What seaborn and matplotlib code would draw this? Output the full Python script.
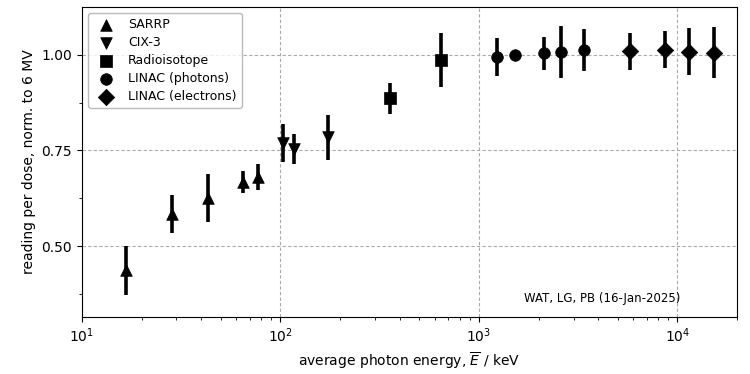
import numpy as np
import pandas as pd
import matplotlib
matplotlib.use("Agg")
import matplotlib.pyplot as plt
import seaborn as sns

# average photon energy (keV), normalised reading, uncertainty
sarrp_e = [16.8, 28.5, 43.4, 64.6, 77.4]
sarrp_r = [0.437, 0.584, 0.626, 0.668, 0.681]
sarrp_u = [0.063, 0.050, 0.063, 0.028, 0.034]

cix_e = [102.7, 117.5, 174.0]
cix_r = [0.770, 0.753, 0.784]
cix_u = [0.050, 0.039, 0.058]

radio_e = [357.0, 647.0]
radio_r = [0.886, 0.986]
radio_u = [0.041, 0.071]

linac_ph_e = [1227.0, 1528.0, 2123.0, 2594.0, 3374.0]
linac_ph_r = [0.994, 1.000, 1.003, 1.007, 1.011]
linac_ph_u = [0.050, 0.0, 0.043, 0.068, 0.055]

linac_el_e = [5781.0, 8670.0, 11490.0, 15360.0]
linac_el_r = [1.009, 1.013, 1.008, 1.005]
linac_el_u = [0.048, 0.048, 0.062, 0.067]

groups = [
    ("SARRP", "^", sarrp_e, sarrp_r, sarrp_u),
    ("CIX-3", "v", cix_e, cix_r, cix_u),
    ("Radioisotope", "s", radio_e, radio_r, radio_u),
    ("LINAC (photons)", "o", linac_ph_e, linac_ph_r, linac_ph_u),
    ("LINAC (electrons)", "D", linac_el_e, linac_el_r, linac_el_u),
]

sns.set_style("ticks")
plt.rcParams['font.family'] = ['DejaVu Sans']
plt.rcParams.update({"text.color": "black", "axes.labelcolor": "black",
                     "xtick.color": "black", "ytick.color": "black"})

fig, ax = plt.subplots(figsize=(7.5, 3.74), dpi=100)
fig.subplots_adjust(left=0.109, right=0.983, top=0.982, bottom=0.152)

for name, marker, e, r, u in groups:
    df = pd.DataFrame({"energy": e, "reading": r, "unc": u})
    ax.errorbar(df["energy"], df["reading"], yerr=df["unc"], fmt="none",
                ecolor="black", elinewidth=2.6, capsize=0, zorder=2)
    sns.scatterplot(data=df, x="energy", y="reading", marker=marker,
                    color="black", s=70, edgecolor="black", linewidth=0.5,
                    label=name, ax=ax, zorder=3)

ax.set_xscale("log")
ax.set_xlim(10, 2e4)
ax.set_ylim(0.315, 1.125)
ax.set_yticks([0.50, 0.75, 1.00])
ax.set_yticks([0.375, 0.625, 0.875], minor=True)
ax.yaxis.set_major_formatter(matplotlib.ticker.FormatStrFormatter("%.2f"))
ax.grid(True, which="major", linestyle=(0, (3, 2)), color="#aaaaaa", linewidth=0.8)

ax.set_xlabel(r"average photon energy, $\overline{E}$ / keV", fontsize=10)
ax.set_ylabel("reading per dose, norm. to 6 MV", fontsize=10)
ax.tick_params(labelsize=10)

for sp in ax.spines.values():
    sp.set_visible(True)
    sp.set_color("black")

ax.legend(loc="upper left", fontsize=9, frameon=True, edgecolor="#aaaaaa",
          handletextpad=0.8, borderaxespad=0.5, labelspacing=0.4)

ax.text(0.913, 0.06, "WAT, LG, PB (16-Jan-2025)", transform=ax.transAxes,
        ha="right", va="center", fontsize=8.5)

fig.savefig("out.png", dpi=100)
